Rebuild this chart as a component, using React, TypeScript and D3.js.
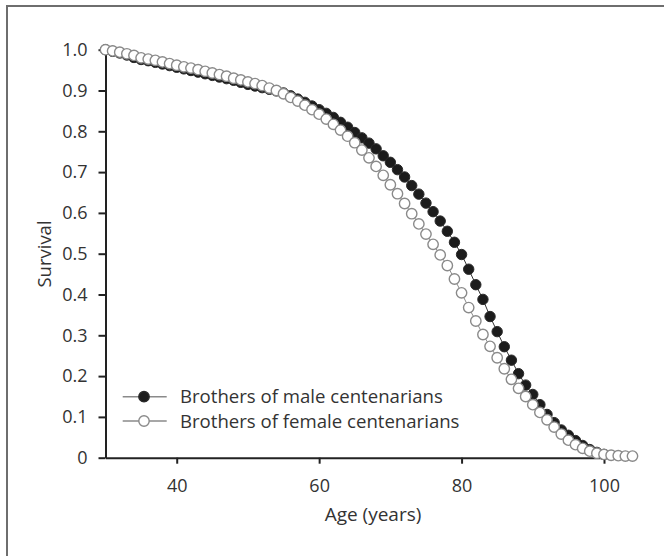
import React, { useEffect, useRef } from "react";
import * as d3 from "d3";

// survival by age (one point per year)
const maleAges = d3.range(30, 101);
const maleSurvival = [
  1.0, 0.996, 0.992, 0.987, 0.981, 0.976, 0.973, 0.969, 0.965, 0.961,
  0.957, 0.953, 0.949, 0.945, 0.941, 0.937, 0.933, 0.929, 0.925, 0.920,
  0.915, 0.911, 0.907, 0.903, 0.899, 0.894, 0.887, 0.879, 0.871, 0.862,
  0.853, 0.844, 0.834, 0.822, 0.810, 0.797, 0.784, 0.771, 0.757, 0.740,
  0.724, 0.706, 0.688, 0.667, 0.646, 0.624, 0.603, 0.580, 0.555, 0.528,
  0.498, 0.462, 0.424, 0.388, 0.346, 0.309, 0.272, 0.239, 0.206, 0.178,
  0.155, 0.130, 0.106, 0.086, 0.068, 0.055, 0.042, 0.030, 0.020, 0.013,
  0.008,
];

const femaleAges = d3.range(30, 105);
const femaleSurvival = [
  1.0, 0.997, 0.994, 0.990, 0.986, 0.980, 0.977, 0.974, 0.970, 0.966,
  0.962, 0.958, 0.955, 0.951, 0.947, 0.943, 0.939, 0.935, 0.930, 0.926,
  0.921, 0.917, 0.912, 0.906, 0.900, 0.892, 0.883, 0.874, 0.864, 0.853,
  0.842, 0.830, 0.817, 0.803, 0.788, 0.772, 0.754, 0.735, 0.714, 0.692,
  0.669, 0.647, 0.623, 0.598, 0.573, 0.548, 0.523, 0.497, 0.471, 0.438,
  0.404, 0.368, 0.335, 0.302, 0.273, 0.245, 0.218, 0.192, 0.170, 0.150,
  0.130, 0.111, 0.093, 0.075, 0.058, 0.043, 0.032, 0.023, 0.016, 0.011,
  0.008, 0.006, 0.005, 0.004, 0.004,
];

const xTicks = [40, 60, 80, 100];
const yTicks = [0, 0.1, 0.2, 0.3, 0.4, 0.5, 0.6, 0.7, 0.8, 0.9, 1.0];
const seriesNames = ["Brothers of male centenarians", "Brothers of female centenarians"];

const FONT = "'Open Sans', 'Noto Sans', sans-serif";

function SurvivalChart() {
  const ref = useRef<SVGSVGElement | null>(null);

  useEffect(() => {
    const svg = d3.select(ref.current);
    svg.selectAll("*").remove();

    const x = d3.scaleLinear().domain([30, 100]).range([105.5, 604]);
    const y = d3.scaleLinear().domain([0, 1]).range([457.7, 49.7]);

    // frame around the figure (cropped on the right and bottom)
    svg.append("rect")
      .attr("x", 7).attr("y", 6).attr("width", 720).attr("height", 620)
      .attr("fill", "none").attr("stroke", "#6e6e6e").attr("stroke-width", 2);

    const xAxis = svg.append("g")
      .attr("transform", `translate(0,${y(0)})`)
      .call(d3.axisBottom(x).tickValues(xTicks).tickFormat(d3.format("d")).tickSize(6).tickSizeOuter(0).tickPadding(16));

    const yAxis = svg.append("g")
      .attr("transform", `translate(${x(30)},0)`)
      .call(d3.axisLeft(y).tickValues(yTicks)
        .tickFormat((d: any) => (d === 0 ? "0" : d3.format(".1f")(d)))
        .tickSize(7).tickSizeOuter(0).tickPadding(11));

    [xAxis, yAxis].forEach(ax => {
      ax.attr("font-family", FONT).attr("font-size", 18);
      ax.select(".domain").attr("stroke", "#222").attr("stroke-width", 2);
      ax.selectAll(".tick line").attr("stroke", "#222").attr("stroke-width", 2);
      ax.selectAll(".tick text").attr("fill", "#333");
    });

    svg.append("text")
      .attr("x", 373).attr("y", 521)
      .attr("text-anchor", "middle")
      .attr("font-family", FONT).attr("font-size", 19).attr("fill", "#333")
      .text("Age (years)");

    svg.append("text")
      .attr("transform", `translate(51,254) rotate(-90)`)
      .attr("text-anchor", "middle")
      .attr("font-family", FONT).attr("font-size", 18.5).attr("fill", "#333")
      .text("Survival");

    const line = d3.line<[number, number]>().x(d => x(d[0])).y(d => y(d[1]));
    const male = maleAges.map((a, i) => [a, maleSurvival[i]] as [number, number]);
    const female = femaleAges.map((a, i) => [a, femaleSurvival[i]] as [number, number]);

    svg.append("path").datum(male).attr("d", line)
      .attr("fill", "none").attr("stroke", "#333").attr("stroke-width", 1);
    svg.append("g").selectAll("circle").data(male).join("circle")
      .attr("cx", d => x(d[0])).attr("cy", d => y(d[1])).attr("r", 5.2)
      .attr("fill", "#1c1c1c").attr("stroke", "#2a2a2a").attr("stroke-width", 1);

    svg.append("path").datum(female).attr("d", line)
      .attr("fill", "none").attr("stroke", "#8a8a8a").attr("stroke-width", 1);
    svg.append("g").selectAll("circle").data(female).join("circle")
      .attr("cx", d => x(d[0])).attr("cy", d => y(d[1])).attr("r", 5.2)
      .attr("fill", "#fff").attr("stroke", "#8a8a8a").attr("stroke-width", 1.4);

    // legend
    const legend = svg.append("g").attr("font-family", FONT).attr("font-size", 18.6);
    seriesNames.forEach((name, i) => {
      const ly = 396.7 + i * 24.3;
      const row = legend.append("g");
      row.append("line")
        .attr("x1", 122.7).attr("x2", 166.7).attr("y1", ly).attr("y2", ly)
        .attr("stroke", "#8a8a8a").attr("stroke-width", 1.5);
      row.append("circle")
        .attr("cx", 144).attr("cy", ly).attr("r", 5.2)
        .attr("fill", i === 0 ? "#1c1c1c" : "#fff")
        .attr("stroke", i === 0 ? "#2a2a2a" : "#8a8a8a").attr("stroke-width", 1.4);
      row.append("text")
        .attr("x", 180).attr("y", ly).attr("dy", "0.35em")
        .attr("fill", "#333")
        .text(name);
    });
  }, []);

  return <svg ref={ref} width={664} height={556} style={{ display: "block" }} />;
}

export default function App() {
  return (
    <div style={{ position: "absolute", left: 0, top: 0, background: "#fff" }}>
      <SurvivalChart />
    </div>
  );
}
